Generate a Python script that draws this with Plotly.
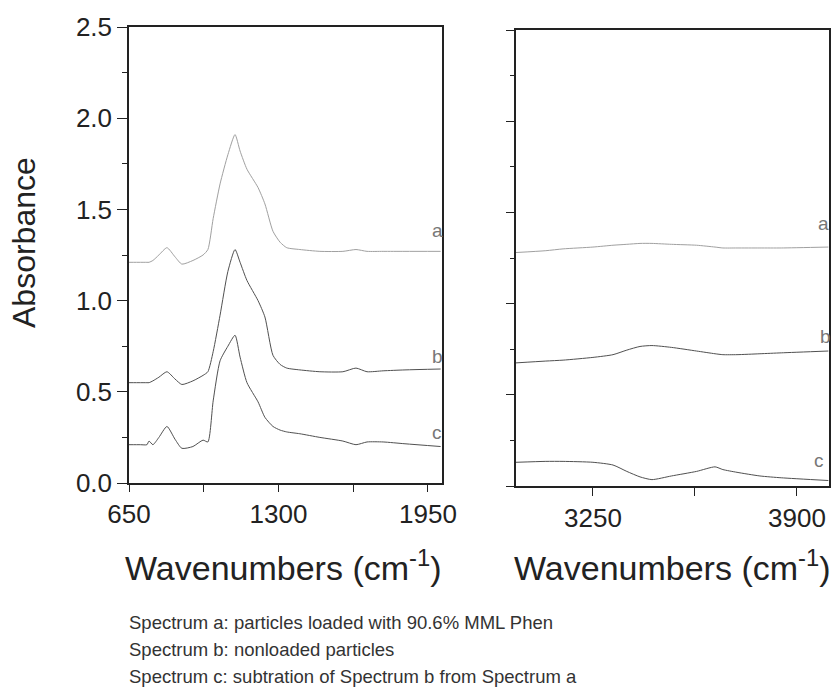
import plotly.graph_objects as go

# Fingerprint region (650-2010 cm-1)
wn_fp = [650, 700, 728, 737, 754, 780, 815, 850, 880, 928, 972, 993, 1016, 1046, 1080, 1111, 1133, 1163, 1211, 1241, 1276, 1307, 1336, 1393, 1480, 1580, 1637, 1685, 1755, 1850, 2005]
a_fp = [1.21, 1.21, 1.21, 1.21, 1.22, 1.25, 1.29, 1.24, 1.20, 1.22, 1.25, 1.28, 1.45, 1.64, 1.80, 1.91, 1.82, 1.72, 1.62, 1.53, 1.38, 1.32, 1.29, 1.28, 1.27, 1.27, 1.28, 1.27, 1.27, 1.27, 1.27]
b_fp = [0.55, 0.55, 0.55, 0.55, 0.56, 0.58, 0.61, 0.57, 0.54, 0.56, 0.59, 0.61, 0.72, 0.92, 1.16, 1.28, 1.21, 1.11, 1.00, 0.91, 0.70, 0.65, 0.63, 0.62, 0.61, 0.61, 0.63, 0.61, 0.615, 0.62, 0.625]
c_fp = [0.21, 0.21, 0.21, 0.23, 0.21, 0.25, 0.31, 0.24, 0.19, 0.20, 0.235, 0.225, 0.45, 0.67, 0.75, 0.81, 0.69, 0.55, 0.445, 0.36, 0.31, 0.29, 0.28, 0.27, 0.25, 0.23, 0.21, 0.225, 0.225, 0.215, 0.20]

# O-H / C-H stretch region (3005-4000 cm-1)
wn_st = [3005, 3100, 3155, 3250, 3314, 3358, 3400, 3438, 3500, 3580, 3639, 3664, 3709, 3782, 3850, 4000]
a_st = [1.28, 1.29, 1.30, 1.31, 1.32, 1.325, 1.33, 1.33, 1.325, 1.32, 1.31, 1.305, 1.305, 1.305, 1.305, 1.31]
b_st = [0.675, 0.685, 0.69, 0.705, 0.72, 0.745, 0.765, 0.77, 0.76, 0.74, 0.725, 0.72, 0.72, 0.725, 0.73, 0.74]
c_st = [0.13, 0.135, 0.135, 0.13, 0.115, 0.08, 0.05, 0.035, 0.055, 0.08, 0.105, 0.09, 0.075, 0.055, 0.045, 0.03]

spectrum_names = ["a", "b", "c"]
line_colors = ["#a0a0a0", "#505050", "#505050"]

x_ticks_fp = [650, 1300, 1950]
x_ticks_st = [3250, 3900]
caption_lines = [
    "Spectrum a: particles loaded with 90.6% MML Phen",
    "Spectrum b: nonloaded particles",
    "Spectrum c: subtration of Spectrum b from Spectrum a",
]

FONT = "Liberation Sans, Arial, sans-serif"
W, H = 838, 689

fig = go.Figure()
for name, col, ys in zip(spectrum_names, line_colors, [a_fp, b_fp, c_fp]):
    fig.add_trace(go.Scatter(x=wn_fp, y=ys, mode="lines", name=name,
                             line=dict(color=col, width=1, shape="spline", smoothing=0.6),
                             xaxis="x", yaxis="y", showlegend=False))
for name, col, ys in zip(spectrum_names, line_colors, [a_st, b_st, c_st]):
    fig.add_trace(go.Scatter(x=wn_st, y=ys, mode="lines", name=name,
                             line=dict(color=col, width=1, shape="spline", smoothing=0.6),
                             xaxis="x2", yaxis="y2", showlegend=False))


def px_x(p):
    return p / W


def px_y(p):
    return 1 - p / H


axis_common = dict(showgrid=False, zeroline=False, showline=True, mirror=True,
                   automargin=False,
                   linecolor="#222", linewidth=1.5, ticks="outside", tickcolor="#222",
                   tickwidth=1.2, tickfont=dict(family=FONT, size=26, color="#222"))

fig.update_layout(
    width=W, height=H, autosize=False,
    margin=dict(l=0, r=0, t=0, b=0),
    paper_bgcolor="white", plot_bgcolor="white",
    xaxis=dict(axis_common, domain=[px_x(129), px_x(442)], range=[650, 2011],
               tickvals=x_ticks_fp, ticklen=7,
               minor=dict(tick0=650, dtick=325, ticklen=7, ticks="outside", tickcolor="#222"),
               anchor="y"),
    yaxis=dict(axis_common, domain=[px_y(483), px_y(27)], range=[0, 2.5],
               dtick=0.5, tick0=0, ticklen=10, tickformat=".1f",
               minor=dict(dtick=0.25, ticklen=5, ticks="outside", tickcolor="#222"),
               anchor="x"),
    xaxis2=dict(axis_common, domain=[px_x(516), px_x(829)], range=[3005, 4002],
                tickvals=x_ticks_st, ticklen=8,
                minor=dict(tick0=3250, dtick=325, ticklen=8, ticks="outside", tickcolor="#222"),
                anchor="y2"),
    yaxis2=dict(axis_common, domain=[px_y(486), px_y(30)], range=[0, 2.5],
                dtick=0.5, tick0=0, ticklen=8, showticklabels=False,
                minor=dict(dtick=0.25, ticklen=4, ticks="outside", tickcolor="#222"),
                anchor="x2"),
)

ann = []
# curve labels
for txt, x, y in [("a", 437, 230), ("b", 437, 356), ("c", 437, 433),
                  ("a", 823, 223), ("b", 825, 336), ("c", 819, 460)]:
    ann.append(dict(text=txt, x=px_x(x), y=px_y(y), xref="paper", yref="paper",
                    showarrow=False, xanchor="center", yanchor="middle",
                    font=dict(family=FONT, size=19, color="#777")))
# axis titles
ann.append(dict(text="Absorbance", x=px_x(24), y=px_y(243), xref="paper", yref="paper",
                showarrow=False, textangle=-90, xanchor="center", yanchor="middle",
                font=dict(family=FONT, size=32, color="#222")))
for cx in (283, 672):
    ann.append(dict(text="Wavenumbers (cm<sup>-1</sup>)", x=px_x(cx), y=px_y(565),
                    xref="paper", yref="paper", showarrow=False,
                    xanchor="center", yanchor="middle",
                    font=dict(family=FONT, size=34, color="#222")))
# caption
for i, line in enumerate(caption_lines):
    ann.append(dict(text=line, x=px_x(127), y=px_y(622 + 27 * i), xref="paper", yref="paper",
                    showarrow=False, xanchor="left", yanchor="middle",
                    font=dict(family=FONT, size=18.5, color="#333")))
fig.update_layout(annotations=ann)

fig.write_html("out.html")
